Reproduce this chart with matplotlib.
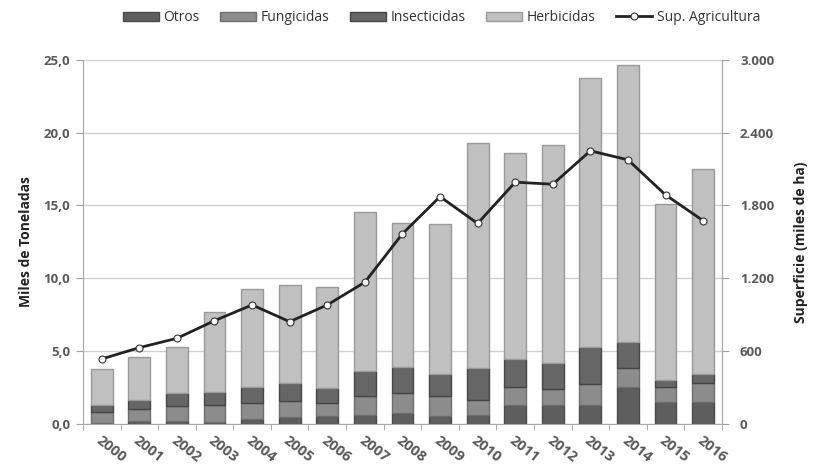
import matplotlib
matplotlib.use('Agg')
import matplotlib.pyplot as plt
import numpy as np
from matplotlib.ticker import FixedLocator, FuncFormatter

# datos (miles de toneladas) y superficie (miles de ha)
years = [str(y) for y in range(2000, 2017)]
otros = [0.10, 0.23, 0.18, 0.12, 0.34, 0.46, 0.53, 0.64, 0.76, 0.53, 0.62, 1.33, 1.33, 1.33, 2.52, 1.49, 1.49]
fungicidas = [0.70, 0.80, 1.08, 1.21, 1.10, 1.10, 0.91, 1.31, 1.34, 1.42, 1.05, 1.23, 1.07, 1.42, 1.32, 1.07, 1.32]
insecticidas = [0.53, 0.64, 0.84, 0.89, 1.12, 1.25, 1.03, 1.71, 1.84, 1.48, 2.17, 1.90, 1.76, 2.51, 1.76, 0.46, 0.62]
totales = [3.78, 4.62, 5.29, 7.67, 9.27, 9.54, 9.43, 14.55, 13.78, 13.75, 19.3, 18.62, 19.12, 23.72, 24.66, 15.1, 17.5]
herbicidas = [t - o - f - i for t, o, f, i in zip(totales, otros, fungicidas, insecticidas)]
superficie = [536, 629, 706, 851, 981, 843, 981, 1168, 1567, 1873, 1652, 1992, 1975, 2250, 2176, 1887, 1675]

txt = '#595959'
plt.rcParams['font.family'] = ['Open Sans', 'DejaVu Sans']

fig = plt.figure(figsize=(8.13, 4.67), dpi=100)
ax = fig.add_axes([0.102, 0.092, 0.786, 0.78])
x = np.arange(len(years))
w = 0.58

bottom = np.zeros(len(years))
series = [('Otros', otros, '#5e5e5e', '#4a4a4a'),
          ('Fungicidas', fungicidas, '#8c8c8c', '#6e6e6e'),
          ('Insecticidas', insecticidas, '#666666', '#454545'),
          ('Herbicidas', herbicidas, '#c0c0c0', '#9a9a9a')]
for name, vals, col, ec in series:
    ax.bar(x, vals, w, bottom=bottom, color=col, edgecolor=ec, linewidth=1.0, label=name, zorder=2)
    bottom += np.array(vals)

ax.set_xlim(-0.5, len(years) - 0.5)
ax.set_ylim(0, 25)
ax.set_yticks([0, 5, 10, 15, 20, 25])
ax.yaxis.set_major_formatter(FuncFormatter(lambda v, p: ('%.1f' % v).replace('.', ',')))
ax.yaxis.grid(True, color='#d0d0d0', linewidth=1.0, zorder=0)
ax.set_axisbelow(True)
ax.set_xticks(x)
ax.set_xticklabels(years, rotation=-38, ha='left', rotation_mode='anchor',
                   fontsize=10.5, color=txt, fontweight='bold')
ax.tick_params(axis='x', which='major', length=0, pad=7)
ax.xaxis.set_minor_locator(FixedLocator(np.arange(-0.5, len(years), 1)))
ax.tick_params(axis='x', which='minor', length=4, color='#a0a0a0')
ax.tick_params(axis='y', length=5, color='#a0a0a0', labelsize=9.5, labelcolor=txt, pad=4)
for lb in ax.get_yticklabels():
    lb.set_fontweight('bold')
ax.spines['top'].set_visible(False)
for s in ['left', 'bottom', 'right']:
    ax.spines[s].set_color('#a8a8a8')
ax.set_ylabel('Miles de Toneladas', fontsize=10, color='#222222', labelpad=8, fontweight='bold')

ax2 = ax.twinx()
ax2.plot(x, superficie, color='#222222', linewidth=2.0, marker='o', markersize=5,
         markerfacecolor='white', markeredgecolor='#333333', markeredgewidth=0.8,
         label='Sup. Agricultura', zorder=3)
ax2.set_ylim(0, 3000)
ax2.set_yticks([0, 600, 1200, 1800, 2400, 3000])
ax2.yaxis.set_major_formatter(FuncFormatter(lambda v, p: '{:,.0f}'.format(v).replace(',', '.')))
ax2.tick_params(axis='y', length=5, color='#a0a0a0', labelsize=9.5, labelcolor=txt, pad=8)
for lb in ax2.get_yticklabels():
    lb.set_fontweight('bold')
for s in ['top', 'left', 'bottom']:
    ax2.spines[s].set_visible(False)
ax2.spines['right'].set_color('#a8a8a8')
ax2.set_ylabel('Superficie (miles de ha)', fontsize=10, color='#222222', labelpad=14, fontweight='bold')

h1, l1 = ax.get_legend_handles_labels()
h2, l2 = ax2.get_legend_handles_labels()
leg = fig.legend(h1 + h2, l1 + l2, loc='center', bbox_to_anchor=(0.543, 0.962), ncol=5,
                 frameon=False, fontsize=10, handlelength=2.6, handleheight=0.7,
                 columnspacing=1.5, handletextpad=0.3)
for t in leg.get_texts():
    t.set_color('#333333')

fig.savefig('out.png', dpi=100)
